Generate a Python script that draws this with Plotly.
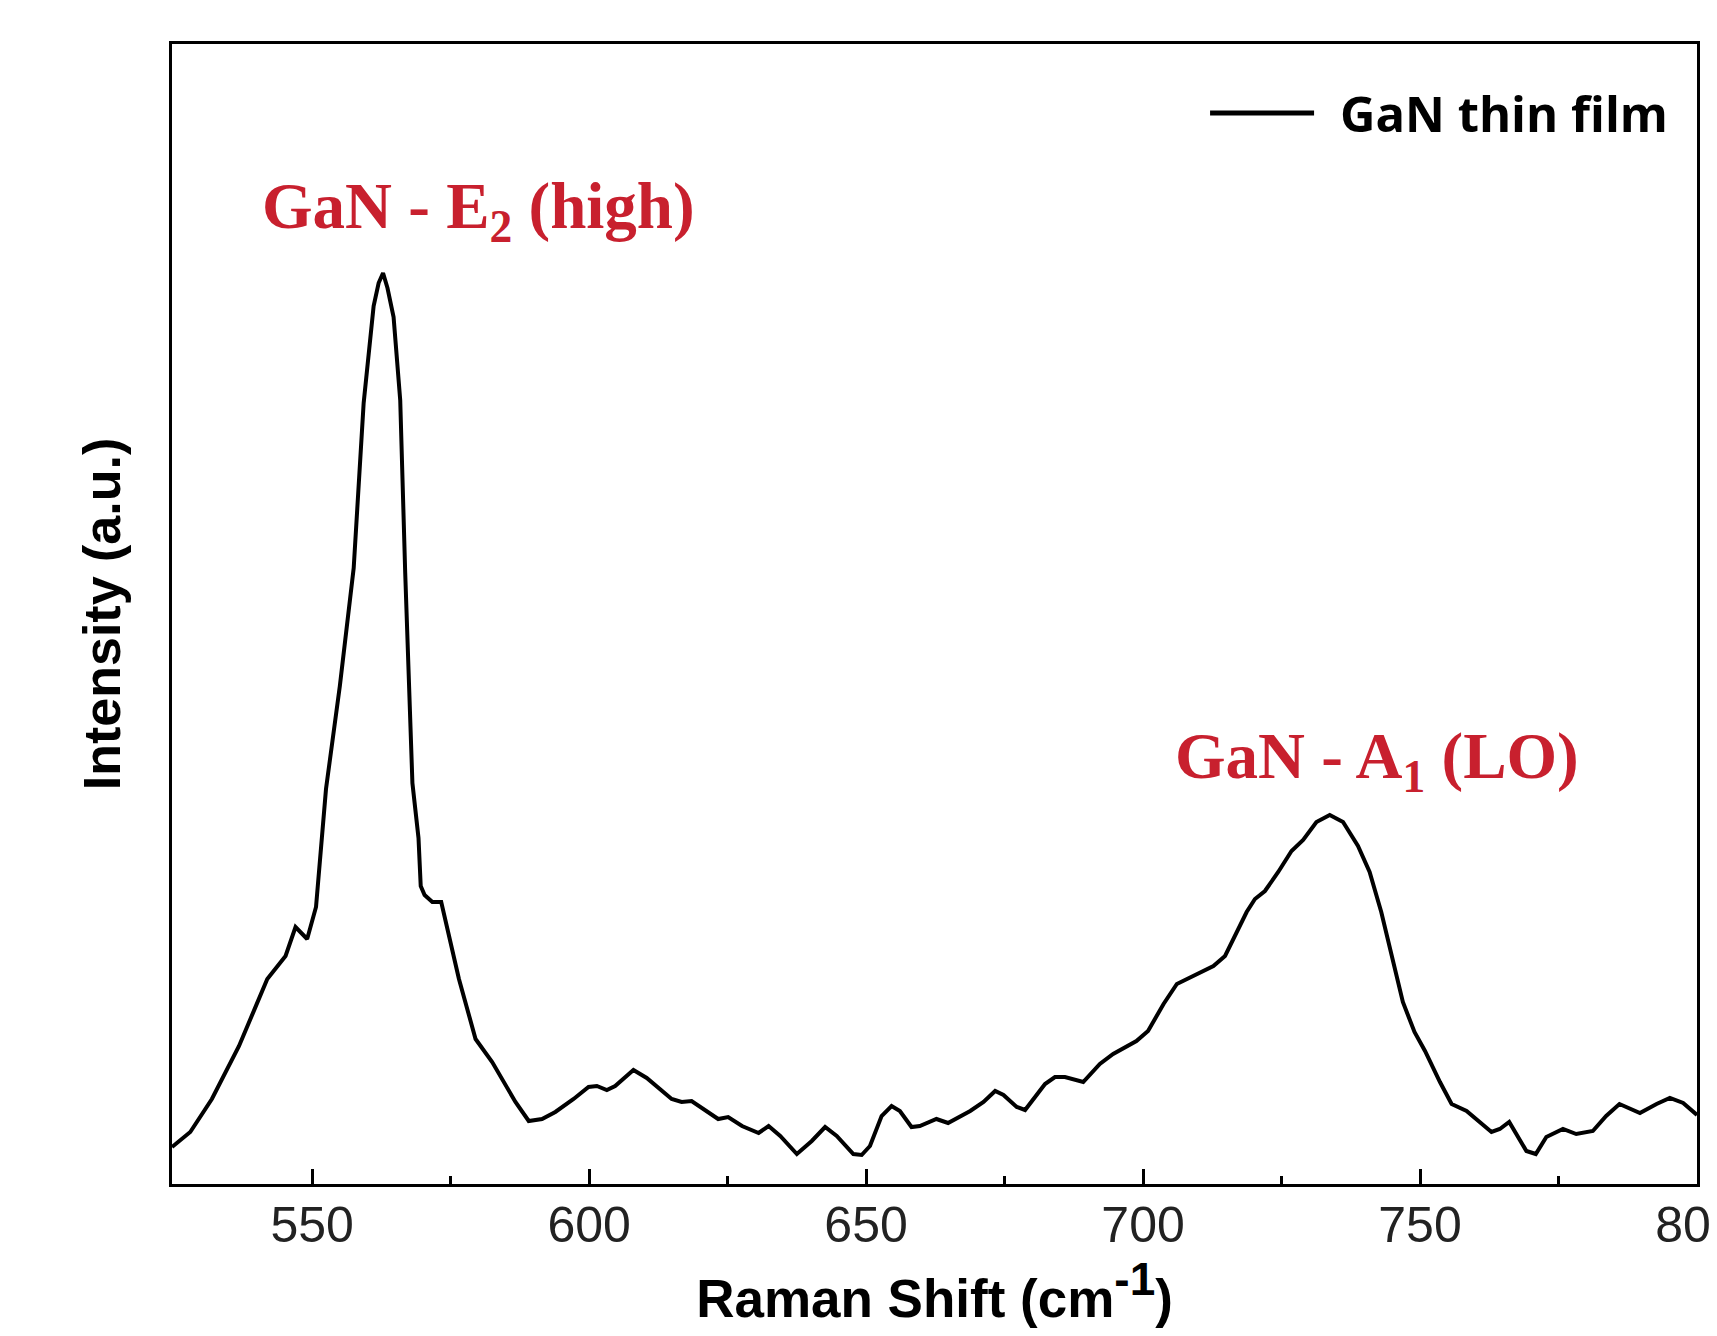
import plotly.graph_objects as go

# ---- data (Raman shift in cm^-1, intensity in a.u.) ----
raman_shift = [
    524.7, 528.0, 531.9, 536.8, 541.9, 545.2, 547.0, 549.1, 550.7, 551.2,
    551.8, 552.5, 555.0, 557.5, 559.3, 561.1, 562.0, 562.8, 563.6, 564.7,
    565.9, 566.8, 568.1, 569.2, 569.6, 570.3, 571.7, 573.3, 576.5, 579.5,
    582.5, 586.7, 589.1, 591.5, 593.9, 597.2, 599.9, 601.4, 603.2, 604.7,
    608.0, 610.4, 614.9, 616.7, 618.5, 623.3, 625.1, 627.6, 630.6, 632.4,
    634.5, 637.5, 640.2, 642.6, 644.7, 647.7, 649.2, 650.7, 652.8, 654.6,
    656.1, 658.2, 659.7, 662.7, 664.8, 667.0, 668.8, 671.2, 673.3, 674.8,
    677.2, 678.7, 682.3, 684.1, 685.9, 689.2, 692.2, 694.6, 698.8, 700.9,
    703.7, 706.1, 710.3, 712.7, 714.8, 716.6, 718.7, 720.2, 722.0, 724.4,
    726.8, 728.9, 731.3, 733.7, 736.1, 738.8, 740.9, 743.0, 745.1, 746.9,
    749.0, 750.9, 753.6, 755.7, 758.4, 760.8, 762.9, 764.4, 766.1, 769.2,
    770.9, 772.8, 775.8, 778.2, 781.2, 783.6, 786.0, 789.7, 792.7, 795.1,
    797.5, 800.0,
]
intensity = [
    36, 51, 84, 137, 204, 227, 256, 244, 276, 310,
    350, 394, 497, 615, 780, 877, 900, 910, 895, 866,
    783, 610, 400, 345, 297, 288, 281, 281, 204, 144,
    121, 81, 62, 64, 71, 84, 96, 97, 93, 97,
    113, 105, 84, 81, 82, 64, 66, 57, 50, 57,
    47, 29, 42, 56, 47, 29, 28, 37, 67, 77,
    72, 56, 57, 64, 60, 66, 72, 81, 92, 88,
    76, 73, 99, 106, 106, 101, 119, 129, 142, 152,
    179, 199, 211, 217, 227, 247, 271, 284, 292, 311,
    332, 343, 361, 368, 361, 337, 311, 271, 221, 181,
    151, 132, 101, 79, 72, 61, 51, 54, 61, 32,
    29, 46, 54, 49, 52, 67, 79, 70, 79, 85,
    80, 68,
]
series_name = "GaN thin film"
tick_values = [550, 600, 650, 700, 750, 800]
tick_labels = ["550", "600", "650", "700", "750", "800"]
minor_tick_values = [575, 625, 675, 725, 775]
peak_labels = ["GaN - E<sub>2</sub> (high)", "GaN - A<sub>1</sub> (LO)"]
peak_label_x = [580.0, 742.2]
peak_label_y = [972, 422]

RED = "#C8202E"
SANS = "Liberation Sans, Arial, sans-serif"
SERIF = "Liberation Serif, Times New Roman, serif"

fig = go.Figure()
fig.add_trace(go.Scatter(
    x=raman_shift, y=intensity, mode="lines", name=series_name,
    line=dict(color="black", width=4), showlegend=False,
))

# peak labels
for txt, px, py in zip(peak_labels, peak_label_x, peak_label_y):
    fig.add_annotation(
        x=px, y=py, xref="x", yref="y", text="<b>" + txt + "</b>",
        showarrow=False, xanchor="center", yanchor="middle",
        font=dict(family=SERIF, size=65, color=RED),
    )

# legend (drawn so that the sample line has the reference length)
fig.add_shape(type="line", xref="paper", yref="paper",
              x0=0.6807, x1=0.7489, y0=0.9395, y1=0.9395,
              line=dict(color="black", width=5))
fig.add_annotation(
    x=0.7646, y=0.9395, xref="paper", yref="paper",
    text="<b>" + series_name + "</b>", showarrow=False,
    xanchor="left", yanchor="middle",
    font=dict(family="Open Sans, Noto Sans, sans-serif", size=49, color="black"),
)

# the page body adds an 8px offset, so the margins compensate for it
fig.update_layout(
    width=1717, height=1336,
    margin=dict(l=164, r=28, t=36, b=160),
    paper_bgcolor="white", plot_bgcolor="white",
    showlegend=False,
    font=dict(family=SANS, color="#222222"),
)
fig.update_xaxes(
    range=[524.7, 800], tickmode="array", tickvals=tick_values, ticktext=tick_labels,
    ticks="inside", ticklen=15, tickwidth=3, tickcolor="black",
    minor=dict(tickmode="array", tickvals=minor_tick_values, ticks="inside",
               ticklen=8, tickwidth=2.5, tickcolor="black"),
    showline=True, linecolor="black", linewidth=3, mirror=True,
    showgrid=False, zeroline=False, automargin=False,
    ticklabeloverflow="allow", ticklabelstandoff=-5,
    tickfont=dict(family=SANS, size=50, color="#222222"),
    title=dict(text="<b>Raman Shift (cm<sup><span style='font-size:46px'>-1</span></sup>)</b>",
               font=dict(family=SANS, size=53, color="black"), standoff=25),
)
fig.update_yaxes(
    range=[-1, 1139], showticklabels=False, ticks="",
    showline=True, linecolor="black", linewidth=3, mirror=True,
    showgrid=False, zeroline=False, automargin=False,
    title=dict(text="<b>Intensity (a.u.)</b>",
               font=dict(family=SANS, size=52, color="black"), standoff=32),
)

fig.write_html("out.html")
